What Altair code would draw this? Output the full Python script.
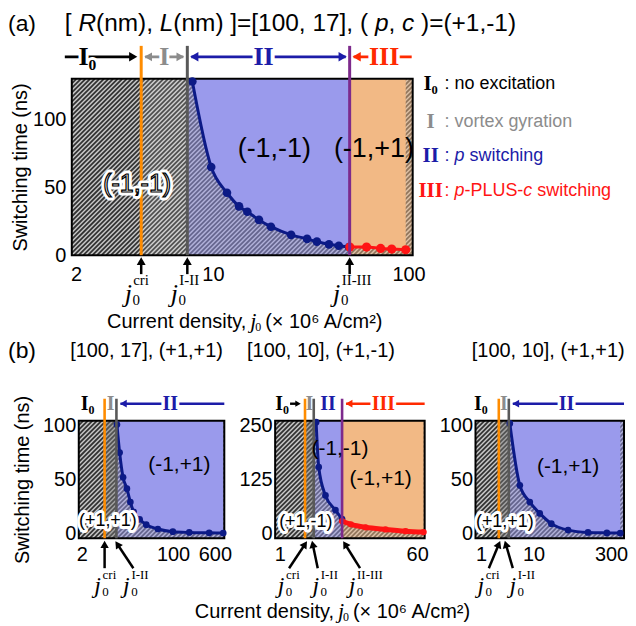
import math
import altair as alt
import pandas as pd

SANS = "Liberation Sans"
SERIF = "Liberation Serif"

BLUE_FILL = "#9a9aec"
ORANGE_FILL = "#f2b985"
NAVY = "#0c1a86"
RED = "#ff1414"
ORANGE_LINE = "#ff8c00"
GRAY_LINE = "#595959"
PURPLE_LINE = "#7d2a8c"
HATCH_BG = "#c8c8c8"
HATCH_LINE = "#333333"
GRAY_TXT = "#8c8c8c"
BLUE_TXT = "#1c1ca8"
RED_TXT = "#ff2a00"

# ---------------- data : panel (a) ----------------
A_title = [("[ ", False), ("R", True), ("(nm), ", False), ("L", True),
           ("(nm) ]=[100, 17], ( ", False), ("p", True), (", ", False), ("c", True),
           (" )=(+1,-1)", False)]
A_xdomain = [1.9, 105]
A_ydomain = [0, 130]
A_xticks = [2, 10, 100]
A_yticks = [0, 50, 100]
A_bounds = [4.3, 7.4, 50.0]            # j0_cri, j0_I-II, j0_II-III
A_blue_j = [7.85, 9.8, 11.8, 13.6, 15.0, 17.2, 19.8, 25.1, 30.3, 34.0, 39.2, 44.0, 49.6]
A_blue_t = [128, 65, 46, 36, 32, 26, 21, 15, 12, 10, 8, 7, 6]
A_red_j = [50.1, 61, 72, 82, 96.7]
A_red_t = [6, 6, 5, 4.5, 4]
A_state = ["(-1,-1)", "(-1,+1)"]
A_state_j = [20.6, 66.5]
A_state_t = [78, 78]
A_init = "(-1,-1)"
A_init_j, A_init_t = 4.1, 52.5

LEG_NUM = ["I\u2080", "I", "II", "III"]
LEG_TXT = [[(": no excitation", False)],
           [(": vortex gyration", False)],
           [(": ", False), ("p", True), (" switching", False)],
           [(": ", False), ("p", True), ("-PLUS-", False), ("c", True), (" switching", False)]]
LEG_COL = ["black", GRAY_TXT, BLUE_TXT, RED]

# ---------------- data : panel (b) ----------------
B_titles = ["[100, 17], (+1,+1)", "[100, 10], (+1,-1)", "[100, 10], (+1,+1)"]

B1_xdomain = [1.75, 900]
B1_ydomain = [-4.6, 104.6]
B1_xticks = [2, 100, 600]
B1_yticks = [0, 50, 100]
B1_bounds = [5.3, 8.8]
B1_blue_j = [9.0, 10.1, 11.7, 13.8, 16.0, 18.4, 23.8, 31.6, 52, 99, 200, 470, 860]
B1_blue_t = [101, 75, 52, 41.5, 29, 20, 13, 8, 4, 1.5, 0.8, 0.5, 0.3]
B1_state, B1_state_j, B1_state_t = "(-1,+1)", 131, 63
B1_init, B1_init_j, B1_init_t = "(+1,+1)", 6.1, 11

B2_xdomain = [0.87, 75]
B2_ydomain = [-11.5, 261.5]
B2_xticks = [1, 60]
B2_yticks = [0, 125, 250]
B2_bounds = [2.12, 2.75, 6.4]
B2_blue_j = [2.95, 3.19, 3.9, 5.25, 6.4]
B2_blue_t = [258, 154, 88, 54, 33]
B2_red_j = [6.4, 8.3, 12.9, 23.4, 42.5, 72.7]
B2_red_t = [28, 21, 14, 9, 5, 3]
B2_state = ["(-1,-1)", "(-1,+1)"]
B2_state_j = [6.0, 20.2]
B2_state_t = [195, 127]
B2_init, B2_init_j, B2_init_t = "(+1,-1)", 2.17, 27

B3_xdomain = [0.78, 530]
B3_ydomain = [-4.6, 104.6]
B3_xticks = [1, 10, 300]
B3_yticks = [0, 50, 100]
B3_bounds = [2.17, 3.37]
B3_blue_j = [3.52, 5.46, 8.47, 13.1, 21.8, 45.4, 109, 250, 450]
B3_blue_t = [102, 44.6, 29, 18.5, 9, 3, 0.8, 0.4, 0.2]
B3_state, B3_state_j, B3_state_t = "(-1,+1)", 45.4, 61.6
B3_init, B3_init_j, B3_init_t = "(+1,+1)", 2.83, 10.8

ONE = pd.DataFrame({"k": [0]})

# Arial / Liberation Sans advance widths (1/1000 em) for laying out mixed italic runs
ADV = {" ": 278, "(": 333, ")": 333, "+": 584, ",": 278, "-": 333, ":": 278, "=": 584,
       "[": 278, "]": 278, "0": 556, "1": 556, "7": 556, "L": 556, "P": 667, "R": 722,
       "S": 667, "U": 722, "c": 500, "g": 556, "h": 556, "i": 222, "m": 833, "n": 556,
       "p": 556, "s": 500, "t": 278, "w": 722, "a": 556, "e": 556, "o": 556, "r": 333,
       "v": 500, "x": 500, "y": 500}


def adv(s, size):
    return sum(ADV.get(ch, 556) for ch in s) * size / 1000.0


class Panel:
    def __init__(self, W, H, xdom, ydom, xticks, yticks, ytitle, ytpad, xpad, ypad, step=4.6):
        self.W, self.H = W, H
        self.xdom, self.ydom = xdom, ydom
        self.xs = alt.Scale(type="log", domain=xdom, nice=False)
        self.ys = alt.Scale(type="linear", domain=ydom, nice=False, zero=False)
        self.layers = []
        self.xax = alt.Axis(values=xticks, format="~g", title=None, ticks=False, domain=False,
                            grid=False, labelFont=SANS, labelFontSize=20, labelColor="black",
                            labelPadding=xpad, labelOverlap=False, labelFlush=False)
        yargs = dict(values=yticks, ticks=False, domain=False, grid=False, labelFont=SANS,
                     labelFontSize=20, labelColor="black", labelPadding=ypad,
                     labelOverlap=False, labelFlush=False)
        if ytitle:
            yargs.update(title=ytitle, titleFont=SANS, titleFontSize=20,
                         titleFontWeight="normal", titleColor="black", titlePadding=ytpad)
        else:
            yargs.update(title=None)
        self.yax = alt.Axis(**yargs)
        bg = pd.DataFrame({"a": [xdom[0]], "b": [xdom[1]], "ya": [ydom[0]], "yb": [ydom[1]]})
        self.layers.append(alt.Chart(bg).mark_rect(color=HATCH_BG).encode(
            x=self.X("a"), x2="b:Q", y=self.Y("ya"), y2="yb:Q"))
        # diagonal hatch texture (45 degrees in screen space)
        rows = []
        r = xdom[1] / xdom[0]
        k = -H
        while k < W:
            rows.append({"a": xdom[0] * r ** (k / W), "b": xdom[0] * r ** ((k + H) / W),
                         "ya": ydom[0], "yb": ydom[1]})
            k += step
        self.layers.append(alt.Chart(pd.DataFrame(rows)).mark_rule(
            color=HATCH_LINE, strokeWidth=1.8, clip=True).encode(
            x=self.X("a"), x2="b:Q", y=self.Y("ya"), y2="yb:Q"))

    def X(self, f):
        return alt.X(f + ":Q", scale=self.xs, axis=self.xax)

    def Y(self, f):
        return alt.Y(f + ":Q", scale=self.ys, axis=self.yax)

    def XD(self, v):
        return alt.XDatum(v, scale=self.xs, axis=self.xax)

    def YD(self, v):
        return alt.YDatum(v, scale=self.ys, axis=self.yax)

    def region(self, a, b, color, opacity):
        df = pd.DataFrame({"a": [a], "b": [b]})
        self.layers.append(alt.Chart(df).mark_rect(color=color, opacity=opacity).encode(
            x=self.X("a"), x2="b:Q", y=alt.value(0), y2=alt.value(self.H)))

    def area_above(self, js, ts, color):
        df = pd.DataFrame({"j": js, "t": ts})
        self.layers.append(alt.Chart(df).mark_area(color=color, opacity=1, interpolate="monotone").encode(
            x=self.X("j"), y=self.Y("t"), y2=alt.Y2Datum(self.ydom[1])))

    def curve(self, js, ts, color, lw, size):
        df = pd.DataFrame({"j": js, "t": ts})
        self.layers.append(alt.Chart(df).mark_line(color=color, strokeWidth=lw, interpolate="monotone").encode(
            x=self.X("j"), y=self.Y("t")))
        self.layers.append(alt.Chart(df).mark_circle(color=color, size=size, opacity=1).encode(
            x=self.X("j"), y=self.Y("t")))

    def frame(self):
        self.layers.append(alt.Chart(ONE).mark_rect(fillOpacity=0, stroke="black", strokeWidth=2).encode(
            x=alt.value(0), x2=alt.value(self.W), y=alt.value(0), y2=alt.value(self.H)))

    def vline(self, b, color, top, w=3):
        self.layers.append(alt.Chart(ONE).mark_rule(color=color, strokeWidth=w).encode(
            x=self.XD(b), y=alt.value(top), y2=alt.value(self.H)))

    def text(self, s, x=None, px=None, y=None, py=None, dx=0, halo=0, **kw):
        enc = dict(x=self.XD(x) if x is not None else alt.value(px),
                   y=self.YD(y) if y is not None else alt.value(py))
        props = dict(font=SANS, fontSize=20, color="black", align="center", baseline="middle")
        props.update(kw)
        if halo:
            hp = dict(props)
            hp.update(stroke="white", strokeWidth=halo, strokeJoin="round", color="white")
            self.layers.append(alt.Chart(ONE).mark_text(text=s, dx=dx, **hp).encode(**enc))
        self.layers.append(alt.Chart(ONE).mark_text(text=s, dx=dx, **props).encode(**enc))

    def runs(self, pieces, px, py, size, color="black"):
        x = px
        for s, ital in pieces:
            lead = len(s) - len(s.lstrip(" "))
            body = s.strip(" ")
            if body:
                self.text(body, px=x + adv(" " * lead, size), py=py, fontSize=size, color=color,
                          align="left", fontStyle="italic" if ital else "normal")
            x += adv(s, size)

    def head(self, x, py, angle, color, size, dx=0):
        self.layers.append(alt.Chart(ONE).mark_point(
            shape="triangle-up", filled=True, size=size, angle=angle % 360, color=color,
            opacity=1, strokeWidth=0, xOffset=dx).encode(x=self.XD(x), y=alt.value(py)))

    def hrule(self, xa, xb, py, color, w, dxa=0, dxb=0):
        self.layers.append(alt.Chart(ONE).mark_rule(color=color, strokeWidth=w, xOffset=dxa, x2Offset=dxb).encode(
            x=self.XD(xa), x2=alt.X2Datum(xb), y=alt.value(py)))

    def arrow_up(self, b, tdx, tpy, hdx, hpy, size=70, w=2.5):
        self.layers.append(alt.Chart(ONE).mark_rule(color="black", strokeWidth=w, xOffset=tdx, x2Offset=hdx).encode(
            x=self.XD(b), x2=alt.X2Datum(b), y=alt.value(tpy), y2=alt.value(hpy)))
        ang = math.degrees(math.atan2(hdx - tdx, tpy - hpy))
        self.head(b, hpy, ang, "black", size, dx=hdx)

    def j0(self, b, sup, jdx, base, jsize, ssize, supdy):
        self.text("j", x=b, py=base, dx=jdx, font=SERIF, fontStyle="italic", fontSize=jsize, baseline="alphabetic")
        self.text("0", x=b, py=base + 3, dx=jdx + 8, font=SERIF, fontSize=ssize, baseline="alphabetic")
        self.text(sup, x=b, py=base - supdy, dx=jdx + 5, font=SERIF, fontSize=ssize, baseline="alphabetic", align="left")

    def chart(self):
        return alt.layer(*self.layers).properties(width=self.W, height=self.H)


def gmean(a, b):
    return math.sqrt(a * b)


# ======================= panel (a) =======================
A = Panel(342, 177, A_xdomain, A_ydomain, A_xticks, A_yticks, "Switching time (ns)", 2, 9, 6)
cri, i12, i23 = A_bounds
xmin, xmax = A_xdomain
A.region(cri, i12, "white", 0.15)
A.region(i12, i23, BLUE_FILL, 0.5)
A.region(i23, xmax, ORANGE_FILL, 0.5)
A.area_above(A_blue_j, A_blue_t, BLUE_FILL)
A.area_above(A_red_j, A_red_t, ORANGE_FILL)
A.frame()
A.curve(A_blue_j, A_blue_t, NAVY, 3, 75)
A.curve(A_red_j, A_red_t, RED, 3, 85)
A.vline(cri, ORANGE_LINE, -33)
A.vline(i12, GRAY_LINE, -33)
A.vline(i23, PURPLE_LINE, -33)
for s, j, t in zip(A_state, A_state_j, A_state_t):
    A.text(s, x=j, y=t, fontSize=27)
A.text(A_init, x=A_init_j, y=A_init_t, fontSize=25, halo=7, color="white", stroke="black", strokeWidth=1.2)
A.text("(a)", px=-64, py=-55, fontSize=23, align="left")
A.runs(A_title, -7, -55, 24.5)
ry = -22
A.hrule(xmin, cri, ry, "black", 2.8, dxa=-7, dxb=-9)
A.head(cri, ry, 90, "black", 90, dx=-8)
A.text("I\u2080", x=cri, py=ry, dx=-54, halo=6, font=SERIF, fontWeight="bold", fontSize=26)
A.hrule(cri, i12, ry, GRAY_TXT, 2.8, dxa=4, dxb=-4)
A.head(cri, ry, 270, GRAY_TXT, 80, dx=7)
A.head(i12, ry, 90, GRAY_TXT, 80, dx=-7)
A.text("I", x=gmean(cri, i12), py=ry, halo=6, font=SERIF, fontWeight="bold", fontSize=26, color=GRAY_TXT)
A.hrule(i12, i23, ry, BLUE_TXT, 2.8, dxa=4, dxb=-4)
A.head(i12, ry, 270, BLUE_TXT, 90, dx=7)
A.head(i23, ry, 90, BLUE_TXT, 90, dx=-7)
A.text("II", x=gmean(i12, i23), py=ry, dx=-5, halo=8, font=SERIF, fontWeight="bold", fontSize=26, color=BLUE_TXT)
A.hrule(i23, xmax, ry, RED_TXT, 2.8, dxa=4, dxb=-1)
A.head(i23, ry, 270, RED_TXT, 90, dx=7)
A.text("III", x=gmean(i23, xmax), py=ry, dx=3, halo=7, font=SERIF, fontWeight="bold", fontSize=26, color=RED_TXT)
leg_y = [5, 43, 78, 113]
for n, d, c, yy in zip(LEG_NUM, LEG_TXT, LEG_COL, leg_y):
    A.text(n, px=360, py=yy, font=SERIF, fontWeight="bold", fontSize=21, color=c)
    A.runs(d, 374, yy, 18, color=c)
for b, sup in zip(A_bounds, ["cri", "I-II", "II-III"]):
    A.arrow_up(b, 0, 177 + 19, 0, 177 + 6, size=80)
    A.j0(b, sup, -13, 224, 26, 15, 17)
A.text("Current density,", px=175, py=244, align="right", fontSize=20)
A.text("j", px=182, py=250, font=SERIF, fontStyle="italic", fontSize=22, baseline="alphabetic")
A.text("0", px=187, py=253, font=SERIF, fontSize=12, baseline="alphabetic")
A.text("(\u00d7 10\u2076 A/cm\u00b2)", px=194, py=244, align="left", fontSize=20)


# ======================= panel (b) =======================
def b_panel(W, xdom, ydom, xticks, yticks, ytitle, bounds):
    P = Panel(W, 118, xdom, ydom, xticks, yticks, ytitle, 10, 6, 3)
    P.region(bounds[0], bounds[1], "#777777", 0.45)
    P.region(bounds[1], bounds[2] if len(bounds) > 2 else xdom[1], BLUE_FILL, 0.5)
    if len(bounds) > 2:
        P.region(bounds[2], xdom[1], ORANGE_FILL, 0.5)
    return P


def b_lines(P, bounds, colors):
    for b, c in zip(bounds, colors):
        P.vline(b, c, -22, w=2.6)


B1 = b_panel(146, B1_xdomain, B1_ydomain, B1_xticks, B1_yticks, "Switching time (ns)", B1_bounds)
B1.area_above(B1_blue_j, B1_blue_t, BLUE_FILL)
B1.frame()
B1.curve(B1_blue_j, B1_blue_t, NAVY, 3, 45)
b_lines(B1, B1_bounds, [ORANGE_LINE, GRAY_LINE])

B2 = b_panel(150, B2_xdomain, B2_ydomain, B2_xticks, B2_yticks, None, B2_bounds)
B2.area_above(B2_blue_j, B2_blue_t, BLUE_FILL)
B2.area_above(B2_red_j, B2_red_t, ORANGE_FILL)
B2.frame()
B2.curve(B2_blue_j, B2_blue_t, NAVY, 3, 45)
B2.curve(B2_red_j, B2_red_t, RED, 5, 40)
b_lines(B2, B2_bounds, [ORANGE_LINE, GRAY_LINE, PURPLE_LINE])

B3 = b_panel(149, B3_xdomain, B3_ydomain, B3_xticks, B3_yticks, None, B3_bounds)
B3.area_above(B3_blue_j, B3_blue_t, BLUE_FILL)
B3.frame()
B3.curve(B3_blue_j, B3_blue_t, NAVY, 3, 45)
b_lines(B3, B3_bounds, [ORANGE_LINE, GRAY_LINE])

B1.text(B1_state, x=B1_state_j, y=B1_state_t, fontSize=21)
B1.text(B1_init, x=B1_init_j, y=B1_init_t, fontSize=18, halo=6)
for s, j, t in zip(B2_state, B2_state_j, B2_state_t):
    B2.text(s, x=j, y=t, fontSize=21)
B2.text(B2_init, x=B2_init_j, y=B2_init_t, fontSize=18, halo=6)
B3.text(B3_state, x=B3_state_j, y=B3_state_t, fontSize=21)
B3.text(B3_init, x=B3_init_j, y=B3_init_t, fontSize=18, halo=6)

B1.text("(b)", px=-71, py=-70, fontSize=23, align="left")
for P, t, cx in zip([B1, B2, B3], B_titles, [68, 46, 73]):
    P.text(t, px=cx, py=-70, fontSize=20)

ry = -17
for P, bnd, xd, i0dx in [(B1, B1_bounds, B1_xdomain, -17), (B3, B3_bounds, B3_xdomain, -18)]:
    c, d = bnd
    P.text("I\u2080", x=c, py=ry, dx=i0dx, font=SERIF, fontWeight="bold", fontSize=20)
    P.text("I", x=gmean(c, d), py=ry, font=SERIF, fontWeight="bold", fontSize=20, color=GRAY_TXT)
    P.hrule(d, xd[1], ry, BLUE_TXT, 2.6, dxa=4, dxb=0)
    P.head(d, ry, 270, BLUE_TXT, 60, dx=7)
    P.text("II", x=gmean(d, xd[1]), py=ry, halo=7, font=SERIF, fontWeight="bold", fontSize=20, color=BLUE_TXT)
c, d, e = B2_bounds
B2.text("I\u2080", x=c, py=ry, dx=-23, font=SERIF, fontWeight="bold", fontSize=20)
B2.hrule(c, c, ry, "black", 2.4, dxa=-15, dxb=-8)
B2.head(c, ry, 90, "black", 40, dx=-7)
B2.text("I", x=gmean(c, d), py=ry, font=SERIF, fontWeight="bold", fontSize=20, color=GRAY_TXT)
B2.text("II", x=gmean(d, e), py=ry, font=SERIF, fontWeight="bold", fontSize=20, color=BLUE_TXT)
B2.hrule(e, B2_xdomain[1], ry, RED_TXT, 2.6, dxa=4, dxb=0)
B2.head(e, ry, 270, RED_TXT, 60, dx=7)
B2.text("III", x=gmean(e, B2_xdomain[1]), py=ry, halo=7, font=SERIF, fontWeight="bold", fontSize=20, color=RED_TXT)

tp, hp = 148, 124
for P, specs in [
    (B1, [(B1_bounds[0], "cri", 0, 0, -7), (B1_bounds[1], "I-II", 17, 1, 10)]),
    (B2, [(B2_bounds[0], "cri", -16, 0, -24), (B2_bounds[1], "I-II", 4, -1, 2), (B2_bounds[2], "II-III", 18, 3, 10)]),
    (B3, [(B3_bounds[0], "cri", -10, 0, -18), (B3_bounds[1], "I-II", 4, -3, 4)]),
]:
    for b, sup, tdx, hdx, jdx in specs:
        P.arrow_up(b, tdx, tp, hdx, hp, size=70)
        P.j0(b, sup, jdx, 173, 24, 13, 14)

B2.text("Current density,", px=59, py=192, align="right", fontSize=20)
B2.text("j", px=66, py=198, font=SERIF, fontStyle="italic", fontSize=22, baseline="alphabetic")
B2.text("0", px=71, py=201, font=SERIF, fontSize=12, baseline="alphabetic")
B2.text("(\u00d7 10\u2076 A/cm\u00b2)", px=78, py=192, align="left", fontSize=20)


def spacer():
    return alt.Chart(ONE).mark_point(opacity=0).encode(x=alt.value(0), y=alt.value(0)).properties(width=1, height=1)


rowA = alt.hconcat(spacer(), A.chart(), spacing=44, bounds="flush")
rowB = alt.hconcat(spacer(), B1.chart(), B2.chart(), B3.chart(), spacing=51, bounds="flush")
chart = alt.vconcat(rowA, rowB, spacing=7).properties(
    padding={"left": 0, "top": 2, "right": 0, "bottom": 0}).configure_view(stroke=None)

chart.save("out.html", embed_options={"renderer": "svg", "actions": False})
